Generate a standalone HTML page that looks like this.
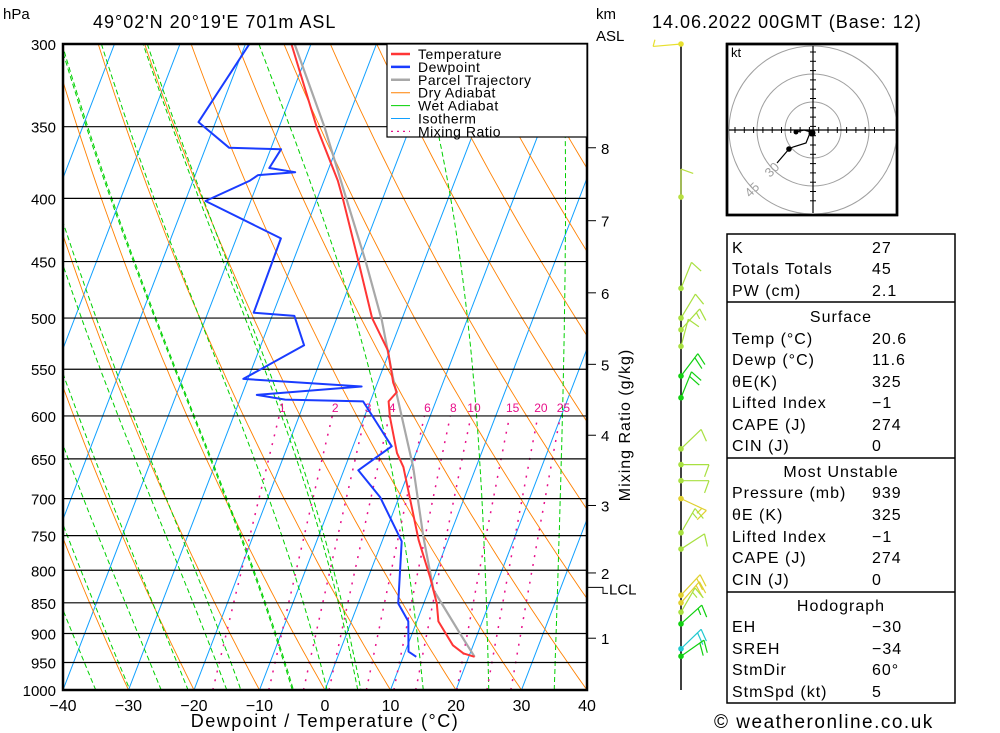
<!DOCTYPE html>
<html><head><meta charset="utf-8"><style>
html,body{margin:0;padding:0;background:#fff;}
svg{display:block;font-family:"Liberation Sans",sans-serif;}
</style></head><body>
<svg id="chart" width="1000" height="733" viewBox="0 0 1000 733" xmlns="http://www.w3.org/2000/svg">
<defs><clipPath id="plotclip"><rect x="63" y="44" width="524" height="646"/></clipPath></defs>
<text x="3" y="19" font-size="15">hPa</text>
<text x="93" y="28" font-size="18" letter-spacing="1">49°02'N  20°19'E  701m  ASL</text>
<text x="596" y="19" font-size="15">km</text>
<text x="596" y="41" font-size="15">ASL</text>
<text x="652" y="28" font-size="18" letter-spacing="1">14.06.2022  00GMT  (Base: 12)</text>
<g id="bg" clip-path="url(#plotclip)"></g>
<g id="grid"></g>
<g id="series" clip-path="url(#plotclip)"></g>
<rect x="63" y="44" width="524" height="646" fill="none" stroke="#000" stroke-width="2.5"/>
<g id="legend"></g>
<g id="axes"></g>
<text transform="translate(630,425) rotate(-90)" text-anchor="middle" font-size="16" letter-spacing="1">Mixing Ratio (g/kg)</text>
<text x="325" y="727" text-anchor="middle" font-size="18" letter-spacing="1.5">Dewpoint / Temperature (°C)</text>
<line x1="681" y1="44" x2="681" y2="690" stroke="#000" stroke-width="1.5"/>
<g id="barbs"></g>
<g id="hodo"></g>
<g id="table"></g>
<text x="714" y="728" font-size="19" letter-spacing="1.5">© weatheronline.co.uk</text>
</svg>
<script>
const tempP=[940,934,920,880,851,810,756,660,643,601,584,574,564,531,500,450,400,387,350,300];
const tempT=[20.9,19.0,16.9,13.3,12.0,9.4,5.5,-1.1,-2.9,-6.1,-7.2,-6.5,-7.6,-10.3,-14.6,-20.0,-26.1,-27.9,-34.3,-43.0];
const dewP=[940,931,880,851,758,698,664,635,584,582,577,568,560,526,498,495,431,402,387,383,381,378,365,364,347,300];
const dewT=[12.0,10.5,8.7,6.1,3.0,-2.9,-7.8,-4.1,-11.1,-23.1,-27.7,-12.2,-30.7,-23.4,-26.6,-33.0,-33.2,-46.9,-41.3,-40.4,-34.9,-39.1,-38.4,-46.4,-52.6,-49.4];
const parcelP=[940,922,900,830,751,660,558,502,450,397,350,300];
const parcelT=[20.9,19.3,17.3,10.7,6.0,0.4,-8.0,-13.0,-18.9,-26.0,-33.1,-42.5];
const pressureTicks=[300,350,400,450,500,550,600,650,700,750,800,850,900,950,1000];
const tempTicks=[-40,-30,-20,-10,0,10,20,30,40];
const mixRatios=[1,2,3,4,6,8,10,15,20,25];
const kmTicks=[1,2,3,4,5,6,7,8];
const kmPress=[908,804,709,622,545,477,417,364];
const lclPress=826;
const barbP=[300,399,473,500,511,527,557,580,638,657,677,700,746,769,838,850,865,884,926,939];
const barbDir=[-95,0,22,31,42,15,37,22,46,90,90,115,30,57,43,41,30,48,46,55];
const barbSpd=[5,10,10,10,15,10,20,20,10,10,10,15,15,10,20,20,15,15,20,20];
const barbCol=['#e8e030','#b8e040','#a8e040','#a8e040','#a8e040','#a8e040','#10d010','#10d010','#a8e040','#a8e040','#a8e040','#e0d030','#a8e040','#a8e040','#e0d030','#e0d030','#a8e040','#10d010','#20c8d0','#10d010'];
const tblLabels=['K','Totals Totals','PW (cm)','Surface','Temp (°C)','Dewp (°C)','θE(K)','Lifted Index','CAPE (J)','CIN (J)','Most Unstable','Pressure (mb)','θE (K)','Lifted Index','CAPE (J)','CIN (J)','Hodograph','EH','SREH','StmDir','StmSpd (kt)'];
const tblValues=['27','45','2.1','','20.6','11.6','325','−1','274','0','','939','325','−1','274','0','','−30','−34','60°','5'];

const NS='http://www.w3.org/2000/svg';
const LK=Math.log(1000/300);
function Y(p){return 690-646*Math.log(1000/p)/LK;}
function X(t,p){return 63+6.55*(t+40)+248*Math.log(1000/p)/LK;}
function mk(tag,attrs,parent){const e=document.createElementNS(NS,tag);for(const k in attrs)e.setAttribute(k,attrs[k]);parent.appendChild(e);return e;}
const bg=document.getElementById('bg'),grid=document.getElementById('grid'),series=document.getElementById('series');
function pathFrom(pts){return pts.map((q,i)=>(i?'L':'M')+q[0].toFixed(1)+' '+q[1].toFixed(1)).join(' ');}
for(let t=-130;t<=40;t+=10){
  const e=mk('line',{x1:X(t,1000),y1:Y(1000),x2:X(t,300),y2:Y(300),stroke:'#10a0ff','stroke-width':1},bg);
  
  
}
for(let th=-90;th<=220;th+=10){
  const pts=[];for(let p=1000;p>=300;p-=10){pts.push([X((th+273.15)*Math.pow(p/1000,0.286)-273.15,p),Y(p)]);}
  const e=mk('path',{d:pathFrom(pts),fill:'none',stroke:'#ff8000','stroke-width':0.9},bg);
  
  
}
function es(t){return 6.112*Math.exp(17.67*t/(t+243.5));}
function moist(tStart,pStart,pEnd){
  let T=tStart+273.15,p=pStart;const pts=[[X(tStart,p),Y(p)]];const dp=pEnd<pStart?-5:5;
  while((dp<0&&p>pEnd)||(dp>0&&p<pEnd)){const tc=T-273.15;const e=es(tc);const rs=0.622*e/(p-e);
    const dTdlnp=(287*T+2.5e6*rs)/(1004+2.5e6*2.5e6*rs*0.622/(287*T*T));
    T+=dTdlnp*Math.log((p+dp)/p);p+=dp;pts.push([X(T-273.15,p),Y(p)]);}
  const el=mk('path',{d:pathFrom(pts),fill:'none',stroke:'#00d000','stroke-width':1,'stroke-dasharray':'5,3'},bg);
  
  
}
for(let t0=-35;t0<=35;t0+=10) moist(t0,1000,300);
[-100,-93,-86,-78,-72,-65].forEach(t=>moist(t,300,1000));
function tdw(w,p){const e=w*p/(622+w);const l=Math.log(e/6.112);return 243.5*l/(17.67-l);}
mixRatios.forEach(w=>{
  const pts=[];for(let p=1000;p>=600;p-=10)pts.push([X(tdw(w,p),p),Y(p)]);
  const e=mk('path',{d:pathFrom(pts),fill:'none',stroke:'#e8108a','stroke-width':1.5,'stroke-dasharray':'2,7'},bg);
  
  
  const t=mk('text',{x:X(tdw(w,600),600)+3,y:Y(600)-4,'font-size':12,fill:'#e8108a','text-anchor':'middle'},bg);
  t.textContent=w;
  
  
});
pressureTicks.forEach(p=>{
  const l=mk('line',{x1:63,x2:587,y1:Y(p),y2:Y(p),stroke:'#000','stroke-width':1.2},grid);
  
  
  const t=mk('text',{x:56,y:Y(p)+6,'font-size':15,'text-anchor':'end'},grid);
  t.textContent=p;
  
  
});
function line(P,T,col,w,name){
  const pts=P.map((p,i)=>[X(T[i],p),Y(p)]);
  const e=mk('path',{d:pathFrom(pts),fill:'none',stroke:col,'stroke-width':w,'stroke-linejoin':'round'},series);
  
  
}
line(parcelP,parcelT,'#a8a8a8',2.2,'parcel-trajectory-line');
line(dewP,dewT,'#1a3cff',2,'dewpoint-line');
line(tempP,tempT,'#ff3535',2,'temperature-line');
const lg=document.getElementById('legend');
mk('rect',{x:387,y:44,width:200,height:93,fill:'#fff',stroke:'#000','stroke-width':1.2},lg);
const legItems=[['Temperature','#ff3535',2.5,''],['Dewpoint','#1a3cff',2.5,''],['Parcel Trajectory','#a8a8a8',2.5,''],['Dry Adiabat','#ff8000',1,''],['Wet Adiabat','#00d000',1,''],['Isotherm','#10a0ff',1,''],['Mixing Ratio','#e8108a',1.3,'2,4']];
legItems.forEach((it,i)=>{const y=54+i*12.9;
  const g=mk('g',{},lg);
  
  
  mk('line',{x1:391,x2:410,y1:y,y2:y,stroke:it[1],'stroke-width':it[2],'stroke-dasharray':it[3]||'none'},g);
  const t=mk('text',{x:418,y:y+5,'font-size':14,'letter-spacing':'0.5'},g);t.textContent=it[0];});
const ax=document.getElementById('axes');
tempTicks.forEach(t=>{const tx=mk('text',{x:X(t,1000),y:711,'font-size':16,'text-anchor':'middle'},ax);
  tx.textContent=(t<0?'−':'')+Math.abs(t);
  
  });
kmTicks.forEach((k,i)=>{const y=Y(kmPress[i]);
  mk('line',{x1:587,x2:596,y1:y,y2:y,stroke:'#000','stroke-width':1},ax);
  const t=mk('text',{x:601,y:y+6,'font-size':15},ax);t.textContent=k;
  
  });
{const y=Y(lclPress);mk('path',{d:`M587 ${y} L603 ${y} L603 ${y+6} L608 ${y+6}`,fill:'none',stroke:'#000'},ax);
 const t=mk('text',{x:609,y:y+7,'font-size':15},ax);t.textContent='LCL';
 
 }
const bb=document.getElementById('barbs');
barbP.forEach((p,i)=>{const y=Y(p),x=681,a=barbDir[i]*Math.PI/180,L=28;
  const g=mk('g',{stroke:barbCol[i],'stroke-width':1.2,fill:'none'},bb);
  
  
  const ex=x+L*Math.sin(a),ey=y-L*Math.cos(a);
  mk('line',{x1:x,y1:y,x2:ex,y2:ey},g);
  let s=barbSpd[i],k=0;const fa=a+110*Math.PI/180;
  while(s>=5){const full=s>=10;const fl=full?13:7;const sx=ex-k*5*Math.sin(a),sy=ey+k*5*Math.cos(a);
    mk('line',{x1:sx,y1:sy,x2:sx+fl*Math.sin(fa),y2:sy-fl*Math.cos(fa)},g);s-=full?10:5;k++;}
  mk('circle',{cx:x,cy:y,r:2.8,fill:barbCol[i],stroke:'none'},g);
});
const hd=document.getElementById('hodo'),cx=813,cy=130;
mk('rect',{x:727,y:44,width:170,height:171,fill:'#fff',stroke:'#000','stroke-width':2.5},hd);
const hc=mk('g',{},hd);
[28,56,84].forEach(r=>mk('circle',{cx:cx,cy:cy,r:r,fill:'none',stroke:'#a0a0a0','stroke-width':1},hc));
mk('rect',{x:727,y:44,width:170,height:171,fill:'none',stroke:'#000','stroke-width':2.5},hd);
mk('line',{x1:729,x2:895,y1:cy,y2:cy,stroke:'#000','stroke-width':1.2},hd);
mk('line',{x1:cx,x2:cx,y1:46,y2:213,stroke:'#000','stroke-width':1.2},hd);
for(let d=-78;d<=78;d+=9.3){if(Math.abs(d)<2)continue;
  mk('line',{x1:cx+d,x2:cx+d,y1:cy-3,y2:cy+3,stroke:'#000'},hd);
  mk('line',{x1:cx-3,x2:cx+3,y1:cy+d,y2:cy+d,stroke:'#000'},hd);}
const kt=mk('text',{x:731,y:57,'font-size':13},hd);kt.textContent='kt';
const h30=mk('text',{x:0,y:0,'font-size':13,fill:'#a0a0a0',transform:`translate(770,178) rotate(-45)`},hd);h30.textContent='30';
const h45=mk('text',{x:0,y:0,'font-size':13,fill:'#a0a0a0',transform:`translate(750,198) rotate(-45)`},hd);h45.textContent='45';
mk('path',{d:`M${cx-2} ${cy+2} L${cx-9} ${cy} L${cx-17} ${cy+2} M${cx-3} ${cy+3} L${cx-7} ${cy+13} L${cx-20} ${cy+17} L${cx-24} ${cy+19} M${cx-24} ${cy+19} L${cx-36} ${cy+33}`,fill:'none',stroke:'#000','stroke-width':1.2},hd);
[[-1,3,3.5],[-17,2,2.5],[-24,19,2.8]].forEach(q=>mk('circle',{cx:cx+q[0],cy:cy+q[1],r:q[2],fill:'#000'},hd));
const tb=document.getElementById('table');
mk('rect',{x:727,y:234,width:228,height:469,fill:'none',stroke:'#000','stroke-width':1.5},tb);
[302,458,592].forEach(y=>mk('line',{x1:727,x2:955,y1:y,y2:y,stroke:'#000','stroke-width':1.5},tb));
const rowY=[247,268,290,316,338,359,381,402,424,445,471,492,514,536,557,579,605,626,648,669,691];
tblLabels.forEach((lab,i)=>{const head=tblValues[i]==='';
  const t=mk('text',{x:head?841:732,y:rowY[i]+6,'font-size':16,'letter-spacing':'1','text-anchor':head?'middle':'start'},tb);
  t.textContent=lab;
  
  
  if(!head){const v=mk('text',{x:872,y:rowY[i]+6,'font-size':16,'letter-spacing':'1'},tb);v.textContent=tblValues[i];
    
    }
});
</script>
</body></html>
